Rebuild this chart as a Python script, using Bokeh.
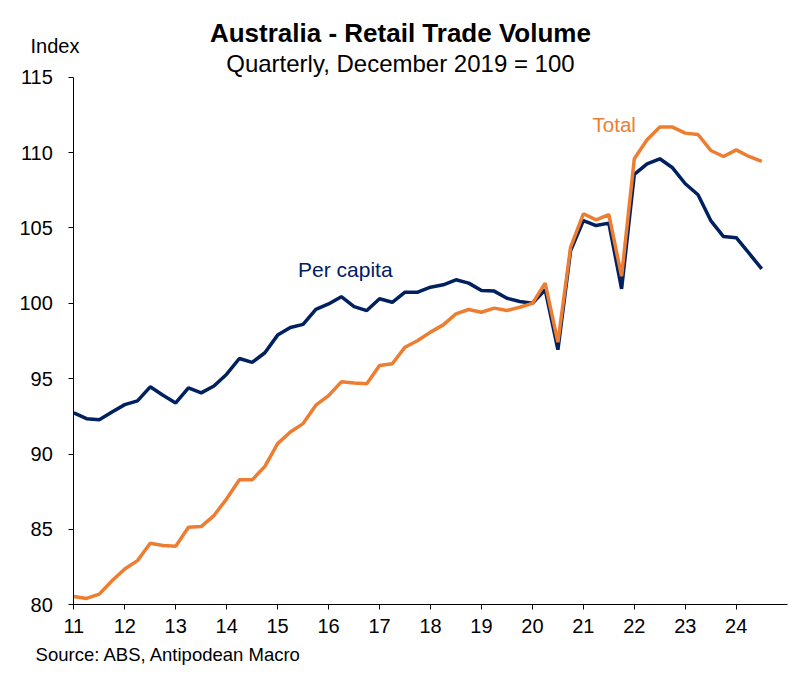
import pandas as pd
from bokeh.plotting import figure
from bokeh.models import Range1d, FixedTicker, Label
from bokeh.embed import file_html
from bokeh.resources import INLINE

# Quarterly periods, Dec 2010 .. Jun 2024 (placed at end of quarter)
quarters = pd.period_range("2010Q4", "2024Q2", freq="Q")
x_vals = [q.year - 2000 + q.quarter * 3 / 12 for q in quarters]

total = [80.55, 80.42, 80.71, 81.6, 82.37, 82.93, 84.08, 83.93, 83.88, 85.14,
         85.19, 85.92, 87.03, 88.29, 88.29, 89.18, 90.69, 91.46, 92.02, 93.24,
         93.88, 94.79, 94.72, 94.66, 95.87, 95.99, 97.09, 97.53, 98.09, 98.57,
         99.3, 99.59, 99.41, 99.68, 99.52, 99.74, 100.0, 101.34, 97.42, 103.73,
         105.94, 105.54, 105.89, 101.8, 109.59, 110.85, 111.69, 111.69, 111.29, 111.2,
         110.14, 109.74, 110.18, 109.74, 109.41]

per_capita = [92.73, 92.35, 92.28, 92.79, 93.28, 93.53, 94.46, 93.9, 93.39, 94.39,
              94.06, 94.52, 95.3, 96.34, 96.08, 96.72, 97.89, 98.4, 98.6, 99.6,
              99.96, 100.44, 99.78, 99.52, 100.3, 100.07, 100.74, 100.74, 101.07, 101.23,
              101.56, 101.34, 100.85, 100.81, 100.34, 100.12, 100.0, 100.9, 96.92, 103.5,
              105.49, 105.16, 105.32, 100.96, 108.55, 109.25, 109.59, 108.99, 107.93, 107.2,
              105.49, 104.43, 104.35, 103.33, 102.29]

x_ticks = list(range(11, 25))
y_ticks = [80, 85, 90, 95, 100, 105, 110, 115]
x_axis_span = (11, 25)
y_axis_span = (80, 115)

NAVY = "#002060"
ORANGE = "#ED7D31"
FONT = "Liberation Sans"

W, H = 792, 668
# pixel geometry of the axes box in the reference
left_px, right_px, top_px, bottom_px = 73.3, 786.7, 76.7, 604.3
xs = (right_px - left_px) / (x_axis_span[1] - x_axis_span[0])
ys = (bottom_px - top_px) / (y_axis_span[1] - y_axis_span[0])
x0 = x_axis_span[0] - left_px / xs
x1 = x_axis_span[0] + (W - left_px) / xs
y1 = y_axis_span[0] + bottom_px / ys
y0 = y_axis_span[0] - (H - bottom_px) / ys

p = figure(width=W, height=H, output_backend="svg", toolbar_location=None,
           x_range=Range1d(x0, x1), y_range=Range1d(y0, y1),
           min_border=0, min_border_left=0, min_border_right=0,
           min_border_top=0, min_border_bottom=0)
p.outline_line_color = None
p.xgrid.visible = False
p.ygrid.visible = False
p.background_fill_color = "white"
p.border_fill_color = "white"

p.line(x_vals, per_capita, line_color=NAVY, line_width=3.5)
p.line(x_vals, total, line_color=ORANGE, line_width=3.5)

p.xaxis.fixed_location = y_axis_span[0]
p.xaxis.bounds = x_axis_span
p.yaxis.fixed_location = x_axis_span[0]
p.yaxis.bounds = y_axis_span

for ax, ticks in ((p.xaxis, x_ticks), (p.yaxis, y_ticks)):
    ax.ticker = FixedTicker(ticks=ticks)
    ax.minor_tick_line_color = None
    ax.major_tick_in = 0
    ax.major_tick_out = 5
    ax.axis_line_color = "black"
    ax.major_tick_line_color = "black"
    ax.major_label_text_font = FONT
    ax.major_label_text_font_size = "20px"
    ax.major_label_text_color = "black"
p.xaxis.major_label_standoff = 9
p.yaxis.major_label_standoff = 16

def add_label(x, y, text, size, color="black", style="normal", align="left"):
    p.add_layout(Label(x=x, y=y, text=text, text_font=FONT, text_font_size=size,
                       text_color=color, text_font_style=style, text_align=align,
                       text_baseline="middle"))

add_label(17.41, 117.93, "Australia - Retail Trade Volume", "26px", style="bold", align="center")
add_label(17.41, 115.89, "Quarterly, December 2019 = 100", "24px", align="center")
add_label(10.15, 117.04, "Index", "20px")
add_label(10.25, 76.70, "Source: ABS, Antipodean Macro", "18.5px")
add_label(15.40, 102.24, "Per capita", "21px", color=NAVY)
add_label(21.18, 111.86, "Total", "20.5px", color=ORANGE)

open("out.html", "w").write(file_html(p, INLINE))
